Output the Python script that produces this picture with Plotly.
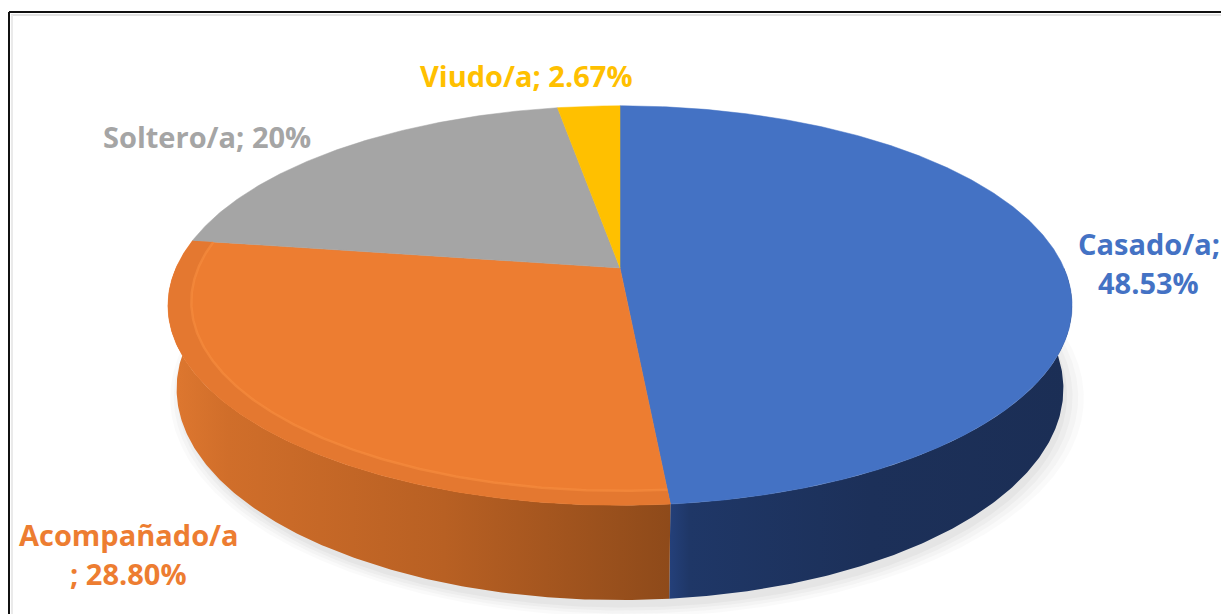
import numpy as np
import plotly.graph_objects as go

# ---------------- data ----------------
categories = ["Casado/a", "Acompañado/a", "Soltero/a", "Viudo/a"]
values = [48.53, 28.80, 20.00, 2.67]
value_labels = ["48.53%", "28.80%", "20%", "2.67%"]
top_colors = ["#4472C4", "#ED7D31", "#A5A5A5", "#FFC000"]
label_colors = ["#4472C4", "#ED7D31", "#A5A5A5", "#FFC000"]
rim_colors = [None, "#E47830", None, None]
hilite_colors = [None, "#F88E40", None, None]
wall_scales = [
    [[0, "#24407A"], [0.05, "#1F3767"], [0.5, "#1C3059"], [1, "#1B2E55"]],
    [[0, "#DF7830"], [0.12, "#D06E2A"], [0.55, "#B86023"], [1, "#8E4A1A"]],
    [[0, "#8A8A8A"], [1, "#6E6E6E"]],
    [[0, "#D9A300"], [1, "#B58800"]],
]

W, H = 1221, 614

# ------------- 3-D projection of a tilted disc (perspective) -------------
CX, CY = 620.0, 268.0      # screen position of pie centre
F = 444.0                  # radius scale
K = 0.188                  # perspective factor
S = 0.434                  # sin(tilt)
CA = np.sqrt(1 - S ** 2)
D = CA / K
DEPTH = 0.208              # thickness of the pie (in radii)


def project(theta_deg, r=1.0, h=0.0):
    t = np.radians(theta_deg)
    u = r * np.sin(t)
    v = r * np.cos(t)
    den = 1 + K * v + h * S / D
    X = F * u / den
    Y = F * (v * S - h * CA) / den
    return CX + X, CY - Y


def arc(a0, a1, r=1.0, h=0.0, n=None):
    if n is None:
        n = max(int(abs(a1 - a0) * 2), 4)
    th = np.linspace(a0, a1, n)
    return project(th, r, h)


total = sum(values)
bounds = np.concatenate([[0], np.cumsum(values)]) / total * 360.0

fig = go.Figure()

# soft shadow under the pie
for rr, op, dx in [(1.03, 0.04, 7), (1.02, 0.05, 6), (1.01, 0.06, 5), (1.0, 0.07, 4)]:
    sx, sy = arc(80, 280, rr, DEPTH + 0.01)
    fig.add_trace(go.Scatter(x=list(sx + dx), y=list(sy + 3), mode="lines", fill="toself",
                             fillcolor=f"rgba(130,130,130,{op})", line=dict(width=0),
                             hoverinfo="skip", showlegend=False))

# walls (front facing part only)
for i in range(len(values)):
    a0, a1 = bounds[i], bounds[i + 1]
    lo, hi = max(a0, 90.0), min(a1, 270.0)
    if hi <= lo:
        continue
    tx, ty = arc(lo, hi, 1.0, 0.0)
    bx, by = arc(hi, lo, 1.0, DEPTH)
    xs = list(tx) + list(bx) + [tx[0]]
    ys = list(ty) + list(by) + [ty[0]]
    fig.add_trace(go.Scatter(x=xs, y=ys, mode="lines", fill="toself",
                             fillgradient=dict(type="horizontal", colorscale=wall_scales[i]),
                             line=dict(width=0), hoverinfo="skip", showlegend=False))

# top faces
for i in range(len(values)):
    a0, a1 = bounds[i], bounds[i + 1]
    ax_, ay_ = arc(a0, a1, 1.0, 0.0)
    xs = [CX] + list(ax_) + [CX]
    ys = [CY] + list(ay_) + [CY]
    fig.add_trace(go.Scatter(x=xs, y=ys, mode="lines", fill="toself",
                             fillcolor=top_colors[i], line=dict(width=0.5, color=top_colors[i]),
                             hoverinfo="skip", showlegend=False,
                             name=categories[i]))

# bevel rim on the front edge
R_IN = 0.95
for i in range(len(values)):
    if rim_colors[i] is None:
        continue
    a0, a1 = bounds[i], bounds[i + 1]
    lo, hi = max(a0, 80.0), min(a1, 280.0)
    if hi <= lo:
        continue
    ox, oy = arc(lo, hi, 1.0, 0.0)
    ix, iy = arc(hi, lo, R_IN, 0.0)
    fig.add_trace(go.Scatter(x=list(ox) + list(ix) + [ox[0]], y=list(oy) + list(iy) + [oy[0]],
                             mode="lines", fill="toself", fillcolor=rim_colors[i],
                             line=dict(width=0), hoverinfo="skip", showlegend=False))
    hx, hy = arc(lo, hi, R_IN, 0.0)
    fig.add_trace(go.Scatter(x=list(hx), y=list(hy), mode="lines",
                             line=dict(width=2.5, color=hilite_colors[i]), opacity=0.6,
                             hoverinfo="skip", showlegend=False))

# ------------- labels -------------
FONT = "Open Sans, sans-serif"
label_lines = [
    [(f"{categories[0]};", 1149, 243), (value_labels[0], 1148, 282)],
    [(categories[1], 129, 534), (f"; {value_labels[1]}", 128, 573)],
    [(f"{categories[2]}; {value_labels[2]}", 207, 136)],
    [(f"{categories[3]}; {value_labels[3]}", 526, 75)],
]
for i, lines in enumerate(label_lines):
    for txt, x, y in lines:
        fig.add_annotation(x=x, y=y, text=f"<b>{txt}</b>", showarrow=False,
                           xanchor="center", yanchor="middle",
                           font=dict(family=FONT, size=29, color=label_colors[i]))

# frame
fig.add_shape(type="line", x0=9, x1=W + 5, y0=12, y1=12, line=dict(color="#111111", width=2))
fig.add_shape(type="line", x0=9, x1=9, y0=12, y1=H + 5, line=dict(color="#111111", width=2))
fig.add_shape(type="line", x0=11, x1=W + 5, y0=15, y1=15, line=dict(color="#E2E2E2", width=2))
fig.add_shape(type="line", x0=12, x1=12, y0=15, y1=H + 5, line=dict(color="#EAEAEA", width=2))

fig.update_layout(
    width=W, height=H,
    margin=dict(l=0, r=0, t=0, b=0),
    paper_bgcolor="white", plot_bgcolor="white",
    xaxis=dict(range=[0, W], visible=False, fixedrange=True),
    yaxis=dict(range=[H, 0], visible=False, fixedrange=True),
    showlegend=False,
)

fig.write_html("out.html", config={"displayModeBar": False},
               post_script="document.body.style.margin='0';document.body.style.overflow='hidden';")
